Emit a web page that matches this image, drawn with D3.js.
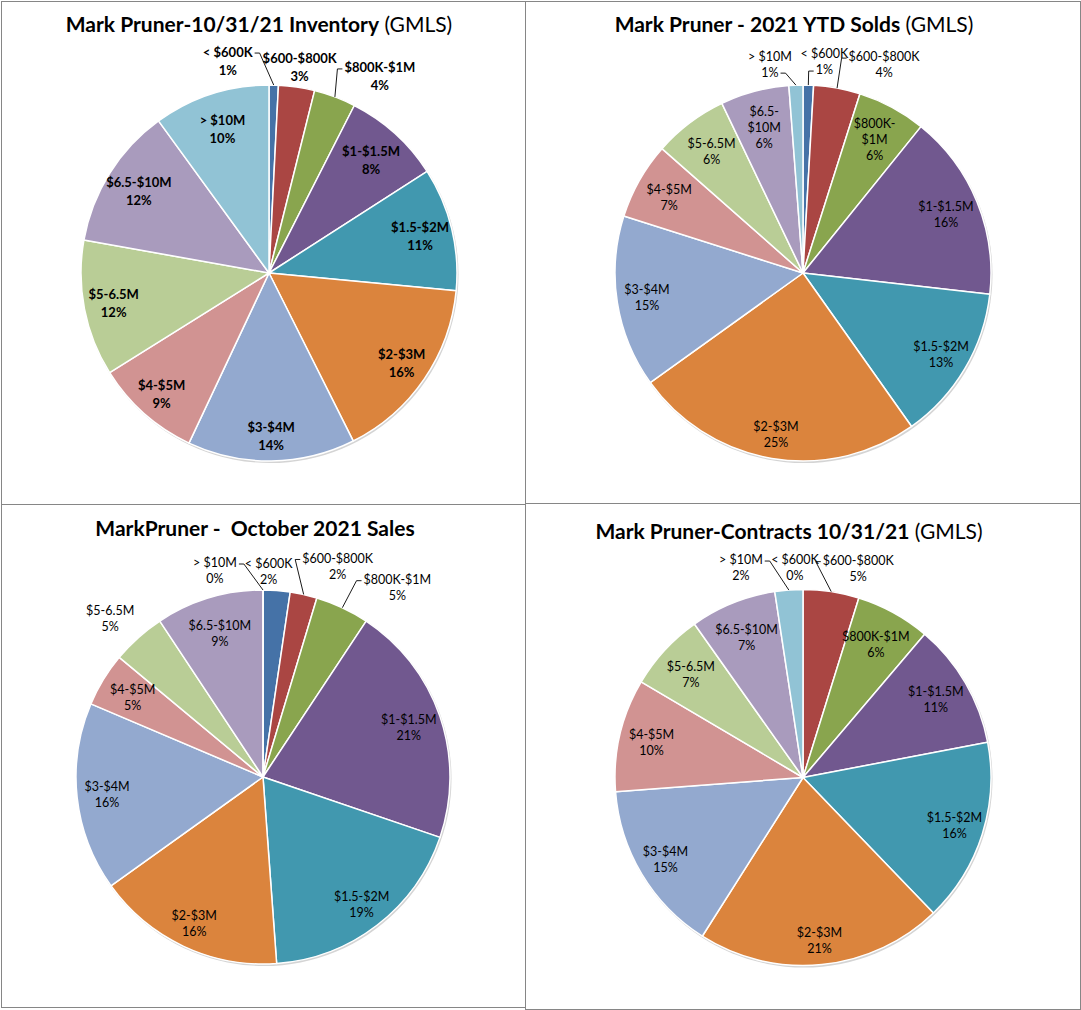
<!DOCTYPE html>
<html>
<head>
<meta charset="utf-8">
<script src="https://cdn.jsdelivr.net/npm/d3@7"></script>
<style>
  body { margin: 0; background: #fff; }
  svg { display: block; font-family: Lato, "Open Sans", sans-serif; }
</style>
</head>
<body>
<svg id="chart" width="1081" height="1010"></svg>
<script>
// price bands, clockwise from 12 o'clock
const categories = ["< $600K", "$600-$800K", "$800K-$1M", "$1-$1.5M", "$1.5-$2M", "$2-$3M",
                    "$3-$4M", "$4-$5M", "$5-6.5M", "$6.5-$10M", "> $10M"];

// share of listings per band
const inventoryValues    = [0.8, 3.1, 3.6, 8.4, 10.6, 16.1, 14.4, 9.1, 11.7, 12.2, 10.0];
const ytdSoldValues      = [0.9, 4.0, 5.9, 16.0, 13.4, 24.9, 14.8, 6.6, 6.4, 5.9, 1.2];
const octoberSalesValues = [1, 1, 2, 9, 8, 7, 7, 2, 2, 4, 0];
const contractValues     = [0, 4.8, 6.4, 10.8, 15.8, 21.2, 14.8, 9.7, 6.7, 7.4, 2.4];

const titles = [
  ["Mark Pruner-10/31/21 Inventory", " (GMLS)"],
  ["Mark Pruner - 2021 YTD Solds", " (GMLS)"],
  ["MarkPruner -  October 2021 Sales", ""],
  ["Mark Pruner-Contracts 10/31/21", " (GMLS)"]
];

const sliceColors = ["#4572A7", "#AA4643", "#89A54E", "#71588F", "#4198AF", "#DB843D",
                     "#93A9CF", "#D19392", "#B9CD96", "#A99BBD", "#91C3D5"];

const color = d3.scaleOrdinal().domain(categories).range(sliceColors);

// layout of the four chart boxes
const panels = [
  { values: inventoryValues, title: titles[0], box: [1, 1, 524, 503], titleX: 259, titleY: 32,
    cx: 269, cy: 273, r: 188, bold: true, fontSize: 13, lineH: 18, wrap: {},
    outside: {
      "< $600K":    { dx: -46, dy: -24, leader: "right", line: 0 },
      "$600-$800K": { dx: 3,   dy: -20 },
      "$800K-$1M":  { dx: 45,  dy: -20, leader: "left", line: 0 }
    } },
  { values: ytdSoldValues, title: titles[1], box: [525, 1, 555, 502], titleX: 794, titleY: 32,
    cx: 803, cy: 273, r: 188, bold: false, fontSize: 12.5, lineH: 16,
    wrap: { "$6.5-$10M": ["$6.5-", "$10M"], "$800K-$1M": ["$800K-", "$1M"] },
    outside: {
      "> $10M":     { dx: -26, dy: -21, leader: "right", line: 1 },
      "< $600K":    { dx: 16,  dy: -23, leader: "left", line: 1 },
      "$600-$800K": { dx: 47,  dy: -23, leader: "left", line: 0 }
    } },
  { values: octoberSalesValues, title: titles[2], box: [1, 504, 524, 503], titleX: 255, titleY: 536,
    cx: 263, cy: 777, r: 187, bold: false, fontSize: 12.5, lineH: 16, wrap: {},
    outside: {
      "> $10M":     { dx: -48, dy: -19, leader: "right", line: 0 },
      "< $600K":    { dx: -8,  dy: -19 },
      "$600-$800K": { dx: 34,  dy: -28, leader: "left", line: 0 },
      "$800K-$1M":  { dx: 55,  dy: -20, leader: "left", line: 0 },
      "$5-6.5M":    { dx: -28, dy: -19 }
    } },
  { values: contractValues, title: titles[3], box: [525, 503, 555, 506], titleX: 789, titleY: 539,
    cx: 803, cy: 777.5, r: 188, bold: false, fontSize: 12.5, lineH: 16, wrap: {},
    outside: {
      "> $10M":     { dx: -48, dy: -22, leader: "right", line: 0 },
      "< $600K":    { dx: -8,  dy: -22 },
      "$600-$800K": { dx: 27,  dy: -23, leader: "left", line: 0 }
    } }
];

const svg = d3.select("#chart");

const pie = d3.pie().sort(null).value(d => d.value);

panels.forEach(p => {
  // frame
  svg.append("rect")
    .attr("x", p.box[0] + 0.5).attr("y", p.box[1] + 0.5)
    .attr("width", p.box[2]).attr("height", p.box[3])
    .attr("fill", "#fff").attr("stroke", "#868686").attr("stroke-width", 1);

  // title
  const t = svg.append("text")
    .attr("x", p.titleX).attr("y", p.titleY)
    .attr("text-anchor", "middle")
    .style("font-size", "21px").style("white-space", "pre").attr("fill", "#000");
  t.append("tspan").style("font-weight", "bold").text(p.title[0]);
  if (p.title[1]) t.append("tspan").style("font-weight", "normal").text(p.title[1]);

  const data = categories.map((c, i) => ({ cat: c, value: p.values[i] }));
  const total = d3.sum(data, d => d.value);
  const arcs = pie(data);
  const arc = d3.arc().innerRadius(0).outerRadius(p.r);

  const g = svg.append("g").attr("transform", `translate(${p.cx},${p.cy})`);

  // soft edge shadow
  g.append("circle").attr("cx", 1).attr("cy", 1.5).attr("r", p.r + 0.5)
    .attr("fill", "#d4d4d4");

  g.selectAll("path")
    .data(arcs)
    .join("path")
    .attr("d", arc)
    .attr("fill", d => color(d.data.cat))
    .attr("stroke", "#fff")
    .attr("stroke-width", 1.5)
    .attr("stroke-linejoin", "round");

  // labels
  arcs.forEach(d => {
    const mid = (d.startAngle + d.endAngle) / 2;
    const pct = Math.round(d.data.value / total * 100) + "%";
    const lines = (p.wrap[d.data.cat] || [d.data.cat]).concat([pct]);
    const out = p.outside[d.data.cat];
    let lx, ly;
    const ax = p.r * Math.sin(mid), ay = -p.r * Math.cos(mid);
    if (out) {
      lx = ax + out.dx; ly = ay + out.dy;
    } else {
      const k = 0.835 - 0.035 * Math.cos(mid);
      lx = k * p.r * Math.sin(mid); ly = -k * p.r * Math.cos(mid);
    }
    const lab = g.append("g").attr("transform", `translate(${lx},${ly})`);
    const texts = lines.map((s, i) =>
      lab.append("text")
        .attr("y", (i - (lines.length - 1) / 2) * p.lineH)
        .attr("dy", "0.35em")
        .attr("text-anchor", "middle")
        .style("font-size", p.fontSize + "px")
        .style("font-weight", p.bold ? "bold" : "normal")
        .attr("fill", "#000")
        .text(s));

    if (out && out.leader) {
      const tn = texts[out.line];
      const w = tn.node().getComputedTextLength();
      const yy = ly + (out.line - (lines.length - 1) / 2) * p.lineH + 1;
      const side = out.leader === "left" ? -1 : 1;
      const x0 = lx + side * (w / 2 + 2);
      const x1 = x0 + side * 5;
      g.append("path")
        .attr("d", d3.line()([[x0, yy], [x1, yy], [ax, ay]]))
        .attr("fill", "none")
        .attr("stroke", "#000")
        .attr("stroke-width", 0.9);
    }
  });
});
</script>
</body>
</html>
